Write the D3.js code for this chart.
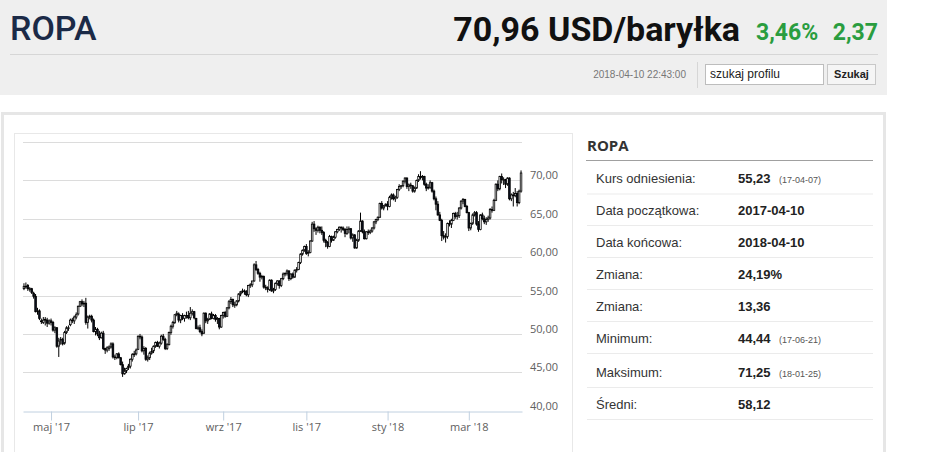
<!DOCTYPE html>
<html>
<head>
<meta charset="utf-8">
<script src="https://cdn.jsdelivr.net/npm/d3@7"></script>
<style>
  body { margin: 0; background: #fff; }
  text { font-family: "Liberation Sans", Arial, sans-serif; }
</style>
</head>
<body>
<svg id="page" width="945" height="452"></svg>
<script>
// daily candles [open, high, low, close], one array per month
var apr17 = [[55.9,56.6,55.7,56.2],[56.2,56.7,55.9,56.2],[56.3,56.5,55.6,55.9],[55.8,56.1,55.5,55.9],[55.9,56.0,55.2,55.4],[55.3,55.5,54.6,54.9],[54.9,55.2,52.8,52.9],[52.9,53.4,52.5,53.0],[53.0,53.2,51.8,52.0],[51.7,52.0,51.3,51.6],[51.5,52.2,51.3,51.8],[51.9,52.2,51.1,51.8],[51.8,52.1,50.9,51.4],[51.4,51.9,51.2,51.7]]
var may17 = [[51.7,52.0,51.1,51.5],[51.5,51.7,50.3,50.5],[50.5,51.0,50.1,50.8],[50.8,50.9,48.2,48.4],[48.4,49.5,47.0,49.1],[49.2,49.6,48.6,49.3],[49.3,49.5,48.5,48.7],[48.8,50.4,48.6,50.2],[50.2,51.0,50.0,50.8],[50.8,51.1,50.4,50.8],[51.2,52.0,51.0,51.8],[51.8,52.1,51.4,51.7],[51.7,52.4,51.3,52.2],[52.2,52.8,51.9,52.5],[52.6,53.7,52.4,53.6],[53.6,54.3,53.5,54.2],[54.2,54.5,53.6,53.9],[53.9,54.3,53.5,54.0],[54.0,54.7,51.2,51.5],[51.5,52.4,50.7,52.2],[52.2,52.5,51.9,52.3],[52.3,52.5,51.5,51.8],[51.8,52.0,50.2,50.3]]
var jun17 = [[50.3,50.9,49.8,50.6],[50.6,50.8,49.7,50.0],[49.9,50.4,49.2,49.5],[49.5,50.3,49.4,50.1],[50.1,50.4,47.9,48.1],[48.1,48.2,47.4,47.9],[47.9,48.4,47.6,48.2],[48.1,48.5,47.8,48.3],[48.3,48.9,48.1,48.7],[48.7,48.9,46.8,47.0],[47.0,47.3,46.6,46.9],[46.9,47.5,46.7,47.4],[47.4,47.6,46.8,46.9],[46.9,47.0,45.9,46.0],[46.0,46.4,44.4,44.8],[44.8,45.6,44.7,45.2],[45.2,45.6,44.9,45.5],[45.6,46.1,45.3,45.8],[45.8,46.8,45.5,46.7],[46.7,47.5,46.4,47.3],[47.3,47.8,47.0,47.4],[47.4,48.1,47.2,47.9]]
var jul17 = [[48.0,49.8,47.9,49.7],[49.7,50.0,49.3,49.6],[49.6,49.8,47.6,47.8],[47.8,48.4,47.3,48.1],[48.1,48.3,46.5,46.7],[46.7,47.2,46.4,46.9],[46.9,47.7,46.6,47.5],[47.5,48.2,47.3,47.7],[47.8,48.5,47.5,48.4],[48.4,49.0,48.2,48.9],[48.9,49.1,48.3,48.4],[48.4,49.0,48.1,48.8],[48.8,49.9,48.6,49.7],[49.7,50.0,49.1,49.3],[49.3,49.5,47.9,48.1],[48.1,48.8,47.9,48.6],[48.6,50.3,48.5,50.2],[50.2,51.2,49.9,51.0],[51.0,51.7,50.7,51.5],[51.5,52.6,51.3,52.5],[52.5,53.0,52.3,52.7]]
var aug17 = [[52.6,52.8,51.5,51.8],[51.8,52.5,51.4,52.4],[52.4,52.7,51.8,52.0],[52.0,52.5,51.6,52.4],[52.4,52.9,52.0,52.4],[52.4,53.0,51.9,52.1],[52.1,53.5,51.8,52.7],[52.7,53.2,52.4,52.9],[52.9,53.0,51.9,52.1],[52.0,52.1,50.6,50.7],[50.7,51.1,50.5,50.8],[50.8,51.2,50.1,50.3],[50.3,50.6,49.7,50.0],[50.1,52.8,50.0,52.7],[52.7,52.8,51.4,51.7],[51.7,52.1,51.3,51.9],[51.9,52.7,51.8,52.6],[52.6,52.9,51.9,52.0],[52.0,52.6,51.9,52.4],[52.4,52.6,51.6,51.9],[51.9,52.2,51.3,52.0],[52.0,52.1,50.6,50.9],[50.9,52.5,50.8,52.4]]
var sep17 = [[52.4,52.9,52.0,52.8],[52.8,53.0,52.1,52.3],[52.3,53.5,52.2,53.4],[53.4,54.4,53.2,54.2],[54.2,54.8,53.9,54.5],[54.5,54.6,53.5,53.8],[53.8,54.2,53.4,53.8],[53.8,54.4,53.6,54.3],[54.3,55.3,54.1,55.2],[55.2,55.6,54.9,55.5],[55.5,55.9,55.3,55.6],[55.6,55.8,55.1,55.5],[55.5,55.7,54.9,55.1],[55.1,56.4,54.8,56.3],[56.3,56.6,56.0,56.4],[56.4,56.9,56.1,56.9],[56.9,59.2,56.8,59.0],[59.0,59.5,58.2,58.4],[58.4,58.6,57.7,57.9],[57.9,58.1,56.8,57.4],[57.4,57.7,57.1,57.5]]
var oct17 = [[57.5,57.6,55.9,56.1],[56.1,56.4,55.7,56.0],[56.0,56.2,55.4,55.8],[55.8,57.1,55.6,57.0],[57.0,57.1,55.5,55.6],[55.6,56.0,55.3,55.8],[55.8,56.7,55.6,56.6],[56.6,57.0,56.3,56.9],[56.9,57.0,55.9,56.3],[56.3,57.3,56.1,57.2],[57.2,58.0,57.0,57.8],[57.8,58.0,57.5,57.9],[57.9,58.4,57.6,58.2],[58.2,58.3,56.9,57.2],[57.2,57.9,57.0,57.8],[57.8,58.0,57.2,57.4],[57.4,58.4,57.3,58.3],[58.3,58.7,58.0,58.4],[58.4,59.4,58.3,59.3],[59.3,60.5,59.1,60.4],[60.4,61.0,60.2,60.9],[60.9,61.5,60.7,61.4]]
var nov17 = [[61.4,61.7,60.3,60.5],[60.5,60.9,60.1,60.6],[60.6,62.2,60.5,62.1],[62.1,64.6,62.0,64.3],[64.3,64.7,63.3,63.7],[63.7,63.9,62.9,63.5],[63.5,64.1,63.2,63.9],[63.9,64.0,63.1,63.5],[63.5,64.0,62.9,63.2],[63.2,63.4,61.9,62.2],[62.2,62.4,61.3,61.9],[61.9,62.1,61.1,61.4],[61.4,62.9,61.3,62.7],[62.7,62.8,61.9,62.2],[62.2,62.8,62.1,62.6],[62.6,63.4,62.4,63.3],[63.3,63.7,63.1,63.6],[63.6,64.0,63.4,63.9],[63.9,64.0,63.2,63.8],[63.8,64.0,63.4,63.6],[63.6,63.8,62.6,63.1],[63.1,64.0,62.9,63.6]]
var dec17 = [[63.6,64.0,63.1,63.7],[63.7,63.8,62.3,62.5],[62.5,63.1,62.0,62.9],[62.9,63.0,61.1,61.2],[61.2,62.4,61.1,62.2],[62.2,63.5,62.0,63.4],[63.4,65.8,63.3,64.7],[64.7,64.8,63.1,63.3],[63.3,63.6,62.3,62.4],[62.4,63.4,62.3,63.3],[63.3,63.6,62.9,63.2],[63.2,63.6,63.0,63.4],[63.4,63.9,63.2,63.8],[63.8,64.7,63.6,64.6],[64.6,65.0,64.3,64.9],[64.9,65.3,64.7,65.2],[65.2,67.1,65.1,67.0],[67.0,67.3,66.2,66.4],[66.4,66.8,66.1,66.7],[66.7,67.0,66.6,66.9]]
var jan18 = [[66.9,67.3,66.1,66.6],[66.6,68.0,66.5,67.8],[67.8,68.3,67.5,68.1],[68.1,68.3,67.4,67.6],[67.6,68.0,67.2,67.8],[67.8,68.9,67.6,68.8],[68.8,69.5,68.6,69.2],[69.2,69.4,68.9,69.3],[69.3,70.0,69.1,69.9],[69.9,70.4,69.6,70.3],[70.3,70.4,68.9,69.2],[69.2,69.6,68.6,69.4],[69.4,69.7,68.9,69.3],[69.3,69.4,68.4,68.6],[68.6,69.2,68.4,69.0],[69.0,70.1,68.9,70.0],[70.0,70.8,69.8,70.5],[70.5,71.2,70.1,70.4],[70.4,70.7,70.0,70.5],[70.5,70.6,69.3,69.5],[69.5,69.7,68.6,69.0],[69.0,69.5,68.8,69.1]]
var feb18 = [[69.1,70.0,68.9,69.7],[69.7,69.8,68.4,68.6],[68.6,68.8,67.4,67.6],[67.6,67.9,66.1,66.9],[66.9,67.3,65.4,65.5],[65.5,65.9,64.7,64.8],[64.8,65.0,62.1,62.8],[62.8,63.4,62.3,62.6],[62.6,63.1,61.9,62.7],[62.7,64.5,62.4,64.4],[64.4,64.8,64.0,64.3],[64.3,65.0,63.8,64.8],[64.8,65.8,64.7,65.7],[65.7,65.9,65.0,65.3],[65.3,65.9,64.9,65.4],[65.4,66.5,65.1,66.4],[66.4,67.4,66.2,67.3],[67.3,67.7,66.9,67.5],[67.5,67.6,66.5,66.6],[66.6,66.8,65.7,65.8]]
var mar18 = [[65.8,65.9,63.4,63.8],[63.8,64.5,63.5,64.4],[64.4,65.7,64.2,65.5],[65.5,66.0,65.3,65.8],[65.8,66.0,64.1,64.3],[64.3,64.7,63.3,63.6],[63.6,65.6,63.5,65.5],[65.5,65.8,64.8,65.0],[65.0,65.4,64.3,64.6],[64.6,65.2,64.2,64.9],[64.9,65.4,64.6,65.1],[65.1,66.4,64.9,66.2],[66.2,66.6,65.8,66.1],[66.1,67.6,66.0,67.4],[67.4,69.6,67.3,69.5],[69.5,70.0,68.6,68.9],[68.9,70.6,68.7,70.5],[70.5,70.9,69.6,70.1],[70.1,70.4,69.4,70.1],[70.1,70.2,69.0,69.5],[69.5,70.4,69.3,70.3]]
var apr18 = [[70.3,70.4,67.4,67.6],[67.6,68.3,67.3,68.1],[68.1,68.5,66.6,68.0],[68.0,69.0,67.8,68.3],[68.3,68.6,66.6,67.1],[67.1,68.8,66.9,68.6],[68.6,71.3,68.4,70.96]]

var months = [apr17, may17, jun17, jul17, aug17, sep17, oct17, nov17, dec17, jan18, feb18, mar18, apr18]
var monthLabels = ['', "maj '17", '', "lip '17", '', "wrz '17", '', "lis '17", '', "sty '18", '', "mar '18", '']
var yTicks = [40, 45, 50, 55, 60, 65, 70, 75]

var statLabels = ['Kurs odniesienia:', 'Data początkowa:', 'Data końcowa:', 'Zmiana:', 'Zmiana:', 'Minimum:', 'Maksimum:', 'Średni:']
var statValues = ['55,23', '2017-04-10', '2018-04-10', '24,19%', '13,36', '44,44', '71,25', '58,12']
var statNotes = ['(17-04-07)', '', '', '', '', '(17-06-21)', '(18-01-25)', '']

// flatten the months into one series, remember where each month starts
var candles = [], monthStart = []
months.forEach(function (m, k) {
	monthStart.push(candles.length)
	m.forEach(function (d) {
		candles.push({o: d[0], h: d[1], l: d[2], c: d[3], month: k})
	})
})

var svg = d3.select('#page')

// ---- header ----
svg.append('rect').attr('x', 0).attr('y', 0).attr('width', 887).attr('height', 95).attr('fill', '#efefef')
svg.append('text').text('ROPA')
	.attr('x', 10).attr('y', 40)
	.style('font-family', 'Roboto').style('font-weight', 500).style('font-size', '34px')
	.attr('fill', '#1b2a47')
svg.append('text').text('70,96 USD/baryłka')
	.attr('x', 740).attr('y', 41).attr('text-anchor', 'end')
	.style('font-family', 'Roboto').style('font-weight', 'bold').style('font-size', '34px')
	.attr('fill', '#111')
svg.append('text').text('3,46%')
	.attr('x', 756).attr('y', 40)
	.style('font-family', 'Roboto').style('font-weight', 'bold').style('font-size', '23px')
	.attr('fill', '#2a9d3f')
svg.append('text').text('2,37')
	.attr('x', 878).attr('y', 40).attr('text-anchor', 'end')
	.style('font-family', 'Roboto').style('font-weight', 'bold').style('font-size', '23px')
	.attr('fill', '#2a9d3f')
svg.append('line').attr('x1', 10).attr('x2', 878).attr('y1', 54.5).attr('y2', 54.5).attr('stroke', '#d6d6d6')
svg.append('text').text('2018-04-10 22:43:00')
	.attr('x', 686).attr('y', 78).attr('text-anchor', 'end')
	.style('font-size', '10px').attr('fill', '#777')
svg.append('line').attr('x1', 697.5).attr('x2', 697.5).attr('y1', 62).attr('y2', 88).attr('stroke', '#d6d6d6')
svg.append('rect').attr('x', 705.5).attr('y', 64.5).attr('width', 118).attr('height', 20)
	.attr('fill', '#fff').attr('stroke', '#bdbdbd')
svg.append('text').text('szukaj profilu')
	.attr('x', 710).attr('y', 78).style('font-size', '12px').attr('fill', '#222')
svg.append('rect').attr('x', 827.5).attr('y', 64.5).attr('width', 48).attr('height', 20)
	.attr('fill', '#f5f5f5').attr('stroke', '#c8c8c8')
svg.append('text').text('Szukaj')
	.attr('x', 851.5).attr('y', 78).attr('text-anchor', 'middle')
	.style('font-size', '11px').style('font-weight', 'bold').attr('fill', '#222')

// ---- panels ----
svg.append('rect').attr('x', 2.5).attr('y', 113.5).attr('width', 882).attr('height', 360)
	.attr('fill', 'none').attr('stroke', '#e6e6e6').attr('stroke-width', 3)
svg.append('rect').attr('x', 14.5).attr('y', 133.5).attr('width', 558).attr('height', 330)
	.attr('fill', 'none').attr('stroke', '#e8e8e8')

// ---- candlestick chart ----
var plotLeft = 23, plotRight = 522, plotTop = 142, plotBottom = 410.7

var x = d3.scaleLinear()
	.domain([-0.5, candles.length - 0.5])
	.range([plotLeft, plotRight])

var y = d3.scaleLinear()
	.domain([40, 75])
	.range([plotBottom, plotTop])

var grid = svg.append('g')
grid.selectAll('line').data(yTicks.slice(1)).enter()
	.append('line')
	.attr('x1', plotLeft).attr('x2', plotRight)
	.attr('y1', d => Math.round(y(d)) + 0.5).attr('y2', d => Math.round(y(d)) + 0.5)
	.attr('stroke', '#dcdcdc')

var yAxis = d3.axisRight(y)
	.tickValues(yTicks.slice(0, -1))
	.tickSize(0)
	.tickFormat(d => d3.format('.2f')(d).replace('.', ','))
svg.append('g')
	.attr('transform', `translate(${plotRight + 5},-5)`)
	.call(yAxis)
	.call(g => g.select('.domain').remove())
	.call(g => g.selectAll('text').attr('fill', '#606060').style('font-family', 'Open Sans').style('font-size', '11px'))

var tickIdx = monthStart.filter((s, k) => monthLabels[k] != '')
var xAxis = d3.axisBottom(x)
	.tickValues(tickIdx)
	.tickSize(9)
	.tickSizeOuter(0)
	.tickFormat(d => monthLabels[monthStart.indexOf(d)])
svg.append('g')
	.attr('transform', `translate(0,${Math.round(plotBottom) + 0.5})`)
	.call(xAxis)
	.call(g => g.select('.domain').attr('stroke', '#c0d0e0'))
	.call(g => g.selectAll('.tick line').attr('stroke', '#c0d0e0'))
	.call(g => g.selectAll('text').attr('fill', '#606060').style('font-family', 'Open Sans').style('font-size', '11px'))

var bw = 1.6
var cg = svg.append('g')
cg.selectAll('line').data(candles).enter()
	.append('line')
	.attr('x1', (d, i) => x(i)).attr('x2', (d, i) => x(i))
	.attr('y1', d => y(d.h)).attr('y2', d => y(d.l))
	.attr('stroke', '#000').attr('stroke-width', 1)
cg.selectAll('rect').data(candles).enter()
	.append('rect')
	.attr('x', (d, i) => x(i) - bw / 2)
	.attr('width', bw)
	.attr('y', d => y(Math.max(d.o, d.c)))
	.attr('height', d => Math.max(0.6, Math.abs(y(d.o) - y(d.c))))
	.attr('fill', d => d.c >= d.o ? '#fff' : '#0c1222')
	.attr('stroke', '#000').attr('stroke-width', 0.8)

// ---- stats table ----
svg.append('text').text('ROPA')
	.attr('x', 587).attr('y', 151)
	.style('font-family', 'Open Sans').style('font-weight', 'bold').style('font-size', '15px')
	.attr('fill', '#333')
svg.append('line').attr('x1', 586).attr('x2', 873).attr('y1', 160.5).attr('y2', 160.5).attr('stroke', '#a0a0a0')

var rowLines = [194, 225.5, 257.5, 289.5, 321.5, 353.5, 387.5, 419.5]
var rows = svg.append('g').selectAll('g').data(statLabels).enter().append('g')
rows.append('line')
	.attr('x1', 587).attr('x2', 873)
	.attr('y1', (d, i) => rowLines[i]).attr('y2', (d, i) => rowLines[i])
	.attr('stroke', '#ebebeb')
rows.append('text').text(d => d)
	.attr('x', 596).attr('y', (d, i) => rowLines[i] - 11)
	.style('font-size', '13px').attr('fill', '#333')
rows.append('text').text((d, i) => statValues[i])
	.attr('x', 738).attr('y', (d, i) => rowLines[i] - 11)
	.style('font-size', '13px').style('font-weight', 'bold').attr('fill', '#222')
rows.append('text').text((d, i) => statNotes[i])
	.attr('x', 779).attr('y', (d, i) => rowLines[i] - 11)
	.style('font-size', '9px').attr('fill', '#555')
</script>
</body>
</html>
